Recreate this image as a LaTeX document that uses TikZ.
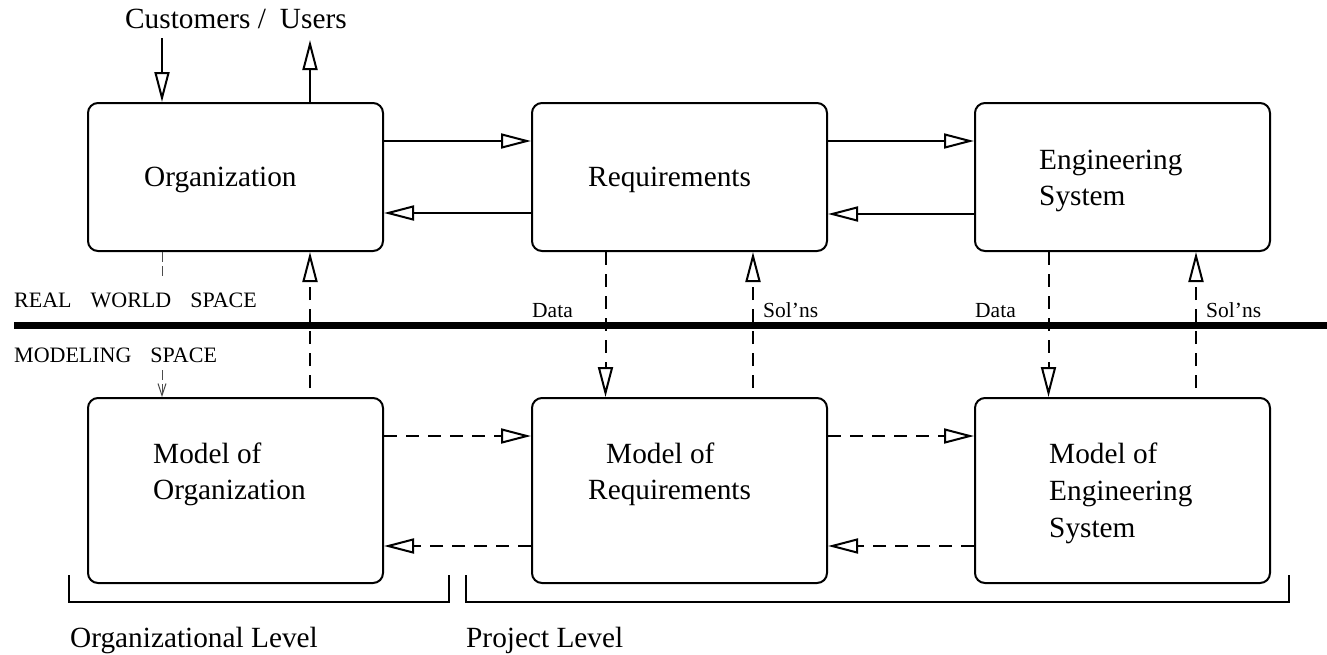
\documentclass[tikz,border=0pt]{standalone}
\usepackage{fontspec}
\setmainfont{Liberation Serif}
\usetikzlibrary{arrows.meta}
\begin{document}
\begin{tikzpicture}[x=1pt,y=-1pt,
  box/.style={draw,line width=2pt,rounded corners=10pt,inner sep=0pt,minimum width=295pt},
  topbox/.style={box,minimum height=148pt},
  modbox/.style={box,minimum height=185pt},
  big/.style={font=\fontsize{29.3}{36}\selectfont,anchor=base west,inner sep=0pt},
  small/.style={font=\fontsize{21.5}{26}\selectfont,anchor=base west,inner sep=0pt},
  caps/.style={font=\fontsize{22}{26}\selectfont,anchor=base west,inner sep=0pt},
  arr/.style={line width=2pt,-{Triangle[open,length=30pt,width=15pt]}},
  darr/.style={arr,dash pattern=on 13pt off 9pt},
  thindash/.style={line width=1pt,draw=black!70,dash pattern=on 10pt off 4pt}
]
\useasboundingbox (0,0) rectangle (1327,654);

% boxes
\node[topbox] (org) at (235.5,177) {};
\node[topbox] (req) at (679.5,177) {};
\node[topbox] (eng) at (1122.5,177) {};
\node[modbox] (morg) at (235.5,490.5) {};
\node[modbox] (mreq) at (679.5,490.5) {};
\node[modbox] (meng) at (1122.5,490.5) {};

% box texts
\node[big] (torg) at (144,186) {Organization};
\node[big] (treq) at (588,186) {Requirements};
\node[big] (teng1) at (1039,169) {Engineering};
\node[big] (teng2) at (1039,205) {System};
\node[big] (tmorg1) at (153,463) {Model of};
\node[big] (tmorg2) at (153,499) {Organization};
\node[big] (tmreq1) at (606,463) {Model of};
\node[big] (tmreq2) at (588,499) {Requirements};
\node[big] (tmeng1) at (1049,463) {Model of};
\node[big] (tmeng2) at (1049,500) {Engineering};
\node[big] (tmeng3) at (1049,537) {System};

% customers / users
\node[big] (cust) at (125,28.5) {Customers /\hspace{14pt}Users};
\coordinate (cin) at (162,38);
\coordinate (cout) at (310,40);
\draw[arr] (cin) -- (org.north -| cin);
\draw[arr] (org.north -| cout) -- (cout);

% top row arrows
\draw[arr] ([yshift=36pt]org.east) -- ([yshift=36pt]req.west);
\draw[arr] ([yshift=-36pt]req.west) -- ([yshift=-36pt]org.east);
\draw[arr] ([yshift=36pt]req.east) -- ([yshift=36pt]eng.west);
\draw[arr] ([yshift=-37pt]eng.west) -- ([yshift=-37pt]req.east);

% model row arrows
\draw[darr] ([yshift=54.5pt]morg.east) -- ([yshift=54.5pt]mreq.west);
\draw[darr] ([yshift=-55.5pt]mreq.west) -- ([yshift=-55.5pt]morg.east);
\draw[darr] ([yshift=54.5pt]mreq.east) -- ([yshift=54.5pt]meng.west);
\draw[darr] ([yshift=-55.5pt]meng.west) -- ([yshift=-55.5pt]mreq.east);

% divider
\coordinate (divl) at (14,325);
\coordinate (divr) at (1327,325);
\draw[line width=7pt] (divl) -- (divr);
\node[caps] (rws) at (14,307) {REAL\hspace{19pt}WORLD\hspace{19pt}SPACE};
\node[caps] (ms) at (14,362) {MODELING\hspace{19pt}SPACE};

% organization vertical links
\coordinate (oa) at (162,278);
\coordinate (ob) at (162,370);
\draw[thindash] ([xshift=-73.5pt]org.south) -- (oa);
\draw[thindash,-{Straight Barb[length=12pt,width=8pt]}] (ob) -- ([xshift=-73.5pt]morg.north);
\draw[darr,shorten <=9pt] ([xshift=74.5pt]morg.north) -- ([xshift=74.5pt]org.south);

% requirements vertical links
\draw[darr] ([xshift=-74pt]req.south) -- ([xshift=-74pt]mreq.north);
\draw[darr,shorten <=9pt] ([xshift=73.5pt]mreq.north) -- ([xshift=73.5pt]req.south);
\node[small] (d1) at (532,317) {Data};
\node[small] (s1) at (763,317) {Sol'ns};

% engineering vertical links
\draw[darr] ([xshift=-74pt]eng.south) -- ([xshift=-74pt]meng.north);
\draw[darr,shorten <=9pt] ([xshift=73.5pt]meng.north) -- ([xshift=73.5pt]eng.south);
\node[small] (d2) at (975,317) {Data};
\node[small] (s2) at (1206,317) {Sol'ns};

% brackets
\coordinate (b1a) at (69,575);
\coordinate (b1b) at (449,575);
\coordinate (b2a) at (466,575);
\coordinate (b2b) at (1289,575);
\draw[line width=2pt] (b1a) -- ++(0,27) -| (b1b);
\draw[line width=2pt] (b2a) -- ++(0,27) -| (b2b);
\node[big] (ol) at (70,647) {Organizational Level};
\node[big] (pl) at (466,647) {Project Level};
\end{tikzpicture}
\end{document}
